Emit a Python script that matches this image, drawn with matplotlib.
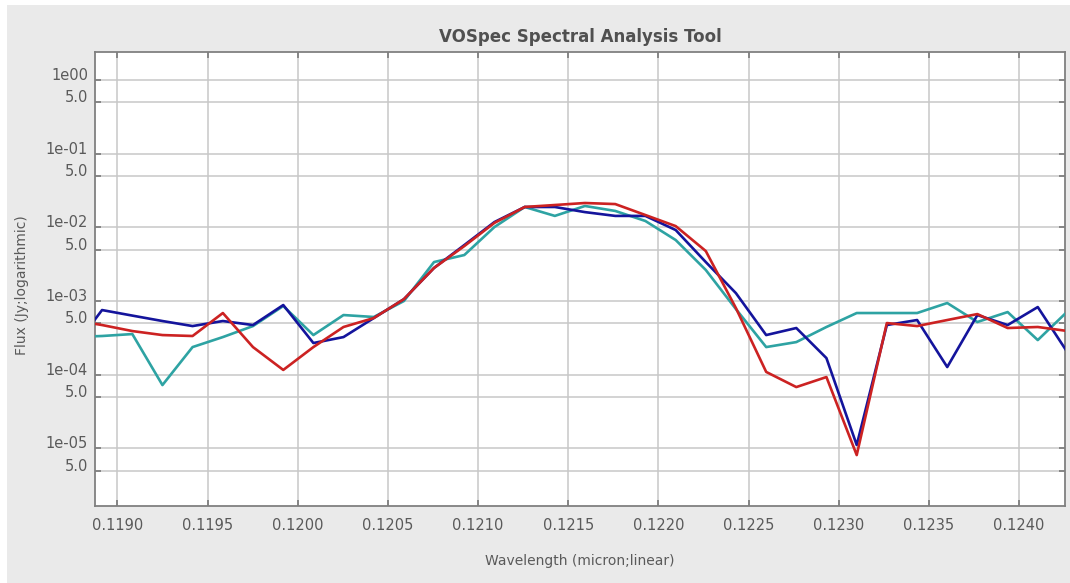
import matplotlib.pyplot as plt
from matplotlib.patches import Rectangle

# wavelength grid (micron)
wavelength = [0.118748, 0.118915, 0.119083, 0.119250, 0.119417, 0.119585, 0.119752,
              0.119920, 0.120087, 0.120254, 0.120422, 0.120589, 0.120756, 0.120924,
              0.121091, 0.121259, 0.121426, 0.121593, 0.121761, 0.121928, 0.122096,
              0.122263, 0.122430, 0.122598, 0.122765, 0.122932, 0.123100, 0.123267,
              0.123435, 0.123602, 0.123769, 0.123937, 0.124104, 0.124271]

# flux (Jy) of the three spectra
flux_teal = [3.24e-4, 3.35e-4, 3.56e-4, 7.23e-5, 2.37e-4, 3.24e-4, 4.57e-4,
             8.55e-4, 3.45e-4, 6.45e-4, 6.07e-4, 1.00e-3, 3.38e-3, 4.21e-3,
             1.01e-2, 1.89e-2, 1.43e-2, 1.95e-2, 1.67e-2, 1.22e-2, 6.73e-3,
             2.64e-3, 7.78e-4, 2.37e-4, 2.77e-4, 4.44e-4, 6.87e-4, 6.87e-4,
             6.87e-4, 9.39e-4, 5.19e-4, 7.08e-4, 2.95e-4, 7.31e-4]
flux_blue = [2.16e-4, 7.54e-4, 6.34e-4, 5.35e-4, 4.57e-4, 5.35e-4, 4.72e-4,
             8.82e-4, 2.69e-4, 3.24e-4, 5.87e-4, 1.06e-3, 2.81e-3, 5.75e-3,
             1.18e-2, 1.89e-2, 1.89e-2, 1.61e-2, 1.43e-2, 1.43e-2, 9.20e-3,
             3.38e-3, 1.28e-3, 3.45e-4, 4.30e-4, 1.68e-4, 1.11e-5, 4.72e-4,
             5.52e-4, 1.27e-4, 6.45e-4, 4.72e-4, 8.28e-4, 1.97e-4]
flux_red = [5.52e-4, 4.72e-4, 3.91e-4, 3.45e-4, 3.35e-4, 6.87e-4, 2.37e-4,
            1.16e-4, 2.37e-4, 4.44e-4, 5.87e-4, 1.06e-3, 2.81e-3, 5.57e-3,
            1.15e-2, 1.89e-2, 2.01e-2, 2.14e-2, 2.07e-2, 1.47e-2, 1.04e-2,
            4.77e-3, 8.03e-4, 1.09e-4, 6.79e-5, 9.29e-5, 8.11e-6, 5.02e-4,
            4.57e-4, 5.52e-4, 6.65e-4, 4.30e-4, 4.44e-4, 3.91e-4]

x_ticks = [0.1190, 0.1195, 0.1200, 0.1205, 0.1210, 0.1215, 0.1220, 0.1225, 0.1230, 0.1235, 0.1240]
y_ticks = [1, 0.5, 0.1, 0.05, 0.01, 0.005, 0.001, 0.0005, 1e-4, 5e-5, 1e-5, 5e-6]
y_labels = ['1e00', '5.0', '1e-01', '5.0', '1e-02', '5.0', '1e-03', '5.0', '1e-04', '5.0', '1e-05', '5.0']

text_col = '#5a5a5a'

fig = plt.figure(figsize=(10.70, 5.83), dpi=100, facecolor='white')
# grey window panel
fig.patches.append(Rectangle((7 / 1070, 0), 1, 1 - 5 / 583, transform=fig.transFigure,
                             facecolor='#eaeaea', edgecolor='none', zorder=-10))

ax = fig.add_axes([95 / 1070, 77 / 583, 970 / 1070, 454 / 583])
ax.set_facecolor('white')

ax.plot(wavelength, flux_teal, color='#2ea3a3', lw=1.9, zorder=3)
ax.plot(wavelength, flux_blue, color='#14149c', lw=1.9, zorder=4)
ax.plot(wavelength, flux_red, color='#cc2222', lw=1.9, zorder=5)

ax.set_yscale('log')
ax.set_xlim(0.118876, 0.124255)
ax.set_ylim(1.65e-6, 2.4)

ax.set_xticks(x_ticks)
ax.set_xticklabels([f'{v:.4f}' for v in x_ticks])
ax.set_yticks(y_ticks)
ax.set_yticklabels(y_labels)
ax.yaxis.set_minor_locator(plt.NullLocator())
for lab in ax.get_yticklabels():
    lab.set_verticalalignment('baseline')

ax.grid(True, color='#c8c8c8', lw=1.1, zorder=0)
ax.set_axisbelow(True)
ax.tick_params(which='both', direction='in', length=4, width=1.1, color='#707070',
               top=True, right=True, labelsize=10.5, labelcolor=text_col)
ax.tick_params(axis='x', pad=9)
ax.tick_params(axis='y', pad=5)
for sp in ax.spines.values():
    sp.set_color('#808080')
    sp.set_linewidth(1.3)

fig.text(580 / 1070, 1 - 37 / 583, 'VOSpec Spectral Analysis Tool', ha='center', va='center',
         fontsize=12, fontweight='bold', color='#505050')
fig.text(580 / 1070, 1 - 561 / 583, 'Wavelength (micron;linear)', ha='center', va='center',
         fontsize=10, color=text_col)
fig.text(22 / 1070, 1 - 285 / 583, 'Flux (Jy;logarithmic)', ha='center', va='center',
         rotation=90, fontsize=10, color=text_col)

fig.savefig('out.png', dpi=100, facecolor=fig.get_facecolor())
